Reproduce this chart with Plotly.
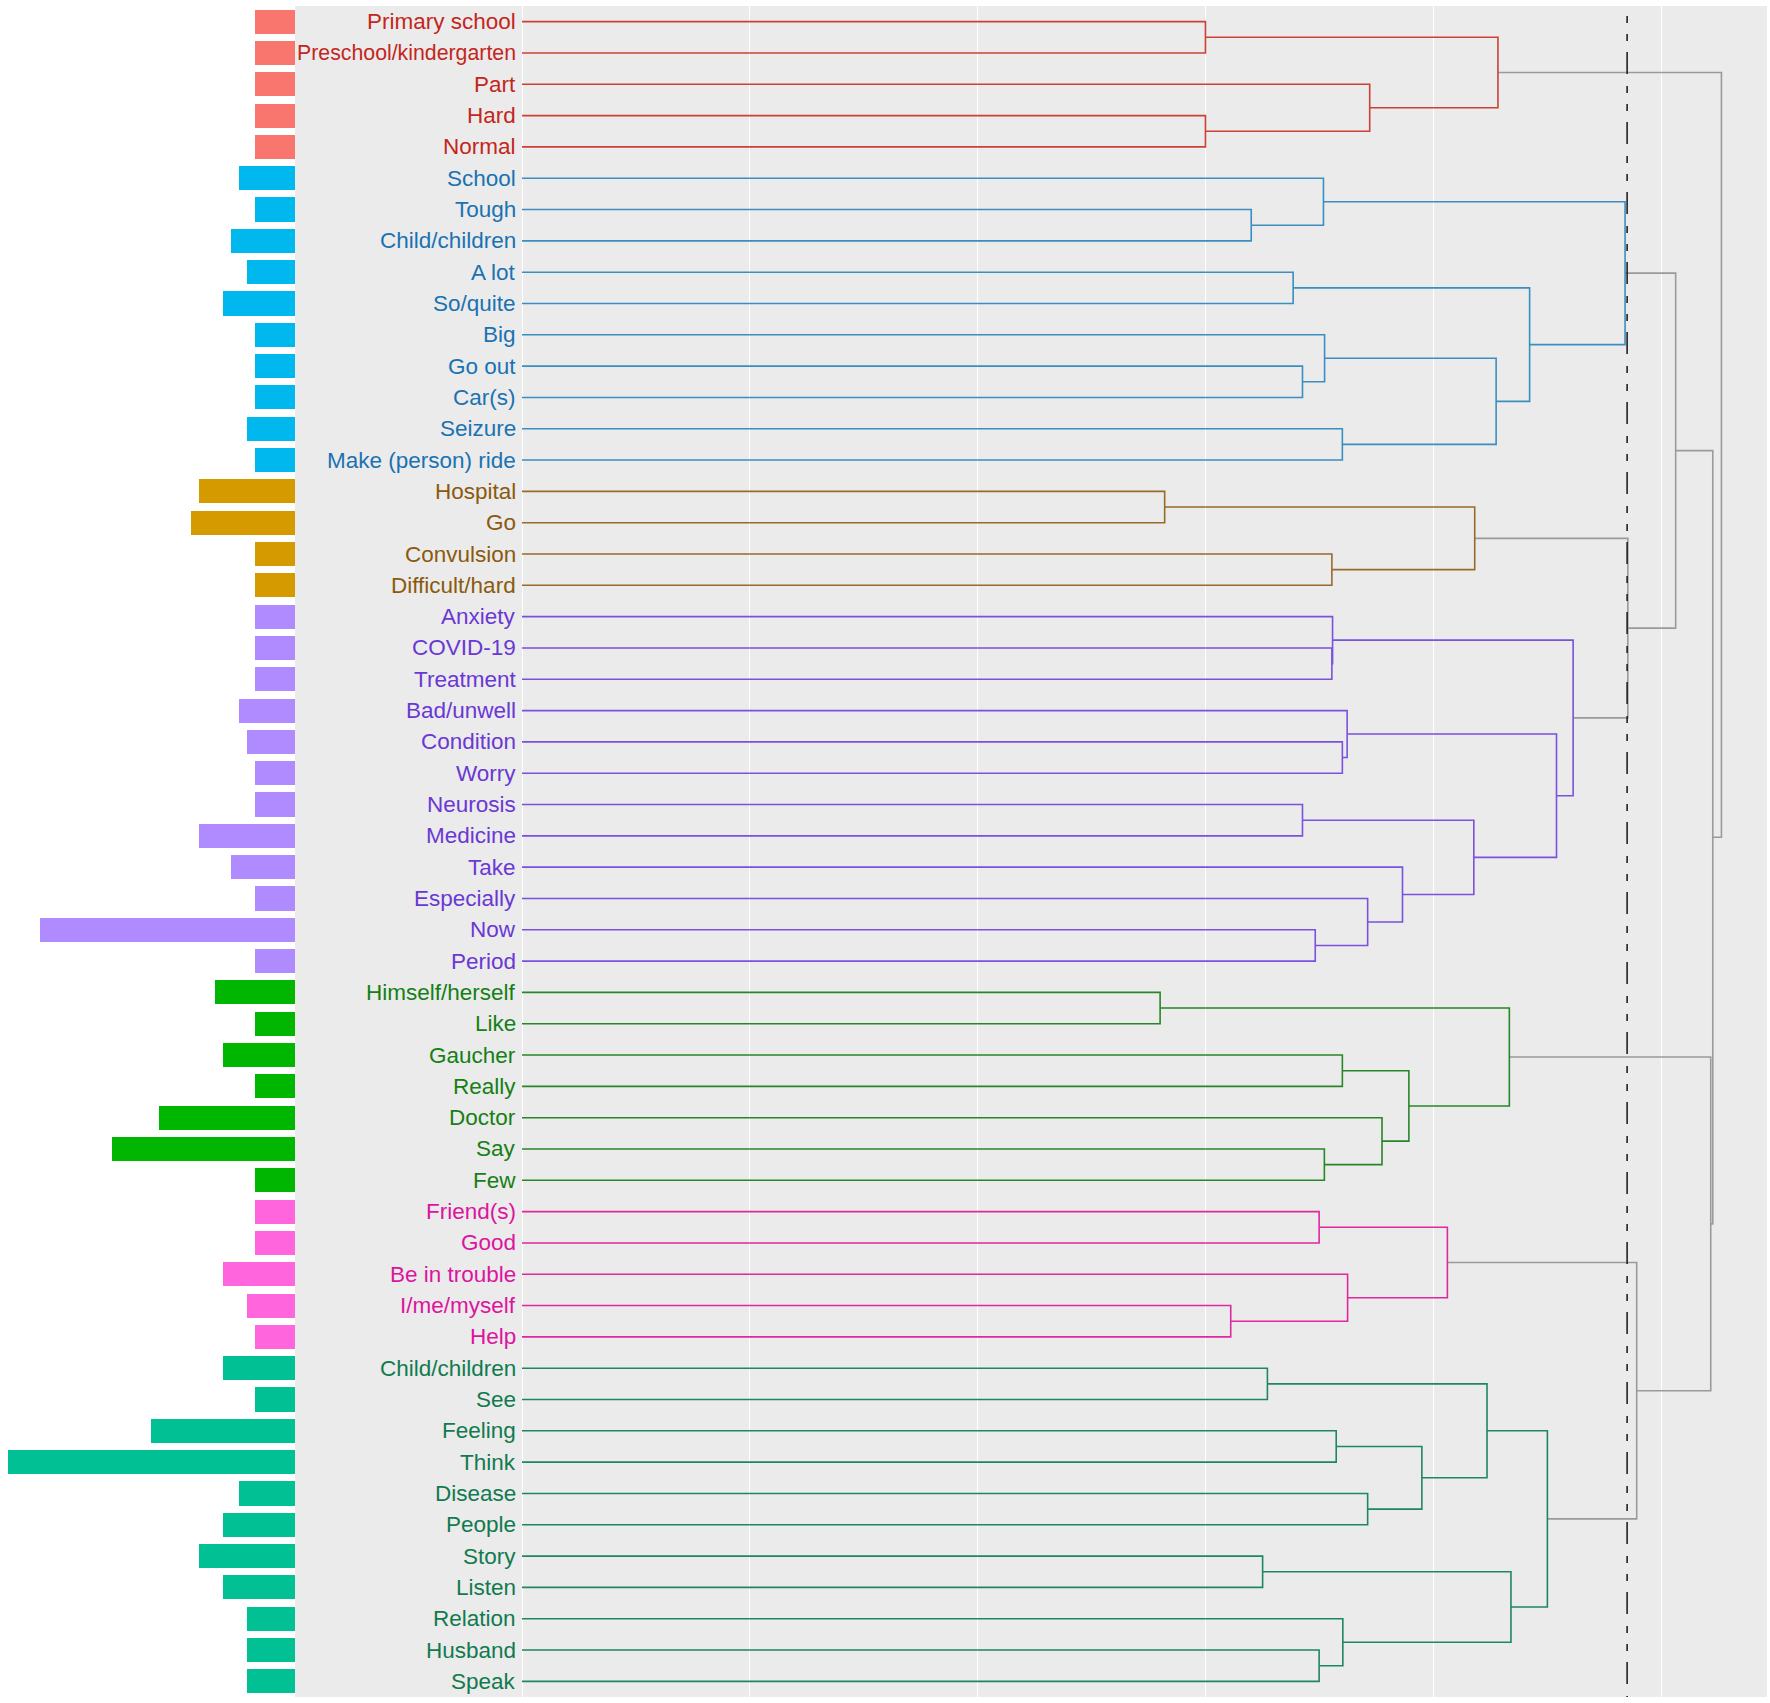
import plotly.graph_objects as go

labels = [
    "Primary school", "Preschool/kindergarten", "Part", "Hard", "Normal",
    "School", "Tough", "Child/children", "A lot", "So/quite", "Big", "Go out",
    "Car(s)", "Seizure", "Make (person) ride",
    "Hospital", "Go", "Convulsion", "Difficult/hard",
    "Anxiety", "COVID-19", "Treatment", "Bad/unwell", "Condition", "Worry",
    "Neurosis", "Medicine", "Take", "Especially", "Now", "Period",
    "Himself/herself", "Like", "Gaucher", "Really", "Doctor", "Say", "Few",
    "Friend(s)", "Good", "Be in trouble", "I/me/myself", "Help",
    "Child/children", "See", "Feeling", "Think", "Disease", "People", "Story",
    "Listen", "Relation", "Husband", "Speak",
]

counts = [
    5, 5, 5, 5, 5,
    7, 5, 8, 6, 9, 5, 5, 5, 6, 5,
    12, 13, 5, 5,
    5, 5, 5, 7, 6, 5, 5, 12, 8, 5, 32, 5,
    10, 5, 9, 5, 17, 23, 5,
    5, 5, 9, 6, 5,
    9, 5, 18, 36, 7, 9, 12, 9, 6, 6, 6,
]

clusters = (["red"] * 5 + ["blue"] * 10 + ["gold"] * 4 + ["purple"] * 12
            + ["green"] * 7 + ["pink"] * 5 + ["teal"] * 11)

bar_colors = {"red": "#F8766D", "blue": "#00B8EE", "gold": "#D49A00",
              "purple": "#AF8BFF", "green": "#00B600", "pink": "#FF66DD",
              "teal": "#00C094"}
text_colors = {"red": "#C4261B", "blue": "#1A72B2", "gold": "#8A5A0E",
               "purple": "#6A38D4", "green": "#167F16", "pink": "#DC159E",
               "teal": "#117A4F"}
line_colors = {"red": "#CC4134", "blue": "#3A8FC0", "gold": "#9A6A28",
               "purple": "#7B52DE", "green": "#288628", "pink": "#E0289F",
               "teal": "#1E8761", "grey": "#9A9A9A"}

# hclust-style merges: negative = leaf (1-based), positive = earlier merge row
merge_a = [-1, -4, -3, 1, -7, -6, -9, -12, -11, -14, 9, 7, 6,
           -16, -18, 14,
           -21, -20, -24, -23, -26, -30, -29, -28, 21, 20, 18,
           -32, -34, -37, -36, 29, 28,
           -39, -42, -41, 34,
           -44, -46, -48, 39, 38, -50, -53, -52, 43, 42,
           16, 13, 37, 33, 49, 4]
merge_b = [-2, -5, 2, 3, -8, 5, -10, -13, 8, -15, 10, 11, 12,
           -17, -19, 15,
           -22, 17, -25, 19, -27, -31, 22, 23, 24, 25, 26,
           -33, -35, -38, 30, 31, 32,
           -40, -43, 35, 36,
           -45, -47, -49, 40, 41, -51, -54, 44, 45, 46,
           27, 48, 47, 50, 51, 52]
merge_h = [3.000, 3.000, 3.721, 4.284, 3.201, 3.518, 3.385, 3.426, 3.523,
           3.601, 4.276, 4.423, 4.842,
           2.821, 3.555, 4.182,
           3.555, 3.558, 3.601, 3.622, 3.426, 3.482, 3.712, 3.865, 4.178,
           4.541, 4.614,
           2.801, 3.601, 3.522, 3.775, 3.893, 4.334,
           3.499, 3.111, 3.624, 4.062,
           3.272, 3.574, 3.712, 3.950, 4.236, 3.251, 3.499, 3.603, 4.341,
           4.501,
           4.854, 5.064, 4.893, 5.218, 5.227, 5.265]

cut_height = 4.851

n = len(labels)
rows = list(range(1, n + 1))

# ---- compute node positions from the merge table
node_x, node_y, node_cl = [], [], []


def child(c):
    if c < 0:
        i = -c - 1
        return 0.0, rows[i], {clusters[i]}
    k = c - 1
    return merge_h[k], node_y[k], node_cl[k]


segs = {}
for a, b, h in zip(merge_a, merge_b, merge_h):
    xa, ya, ca = child(a)
    xb, yb, cb = child(b)
    cl = ca | cb
    node_x.append(h)
    node_y.append((ya + yb) / 2)
    node_cl.append(cl)
    col = next(iter(cl)) if len(cl) == 1 else "grey"
    segs.setdefault(col, ([], []))
    xs, ys = segs[col]
    xs += [xa, h, h, xb, None]
    ys += [ya, ya, yb, yb, None]

W, H = 1770, 1703
left_px, split_px, right_px = 0, 295, 1767
top_px, bot_px = 6, 1697

fig = go.Figure()

fig.add_trace(go.Bar(
    x=counts, y=rows, orientation="h", width=0.77,
    marker=dict(color=[bar_colors[c] for c in clusters], line=dict(width=0)),
    xaxis="x", yaxis="y", showlegend=False, hoverinfo="skip",
))

order = ["grey", "red", "blue", "gold", "purple", "green", "pink", "teal"]
for col in order:
    if col in segs:
        xs, ys = segs[col]
        fig.add_trace(go.Scatter(
            x=xs, y=ys, mode="lines", xaxis="x2", yaxis="y",
            line=dict(color=line_colors[col], width=1.6),
            showlegend=False, hoverinfo="skip",
        ))

annotations = []
for lab, r, c in zip(labels, rows, clusters):
    size = 21.3 if len(lab) > 20 else 22.5
    annotations.append(dict(
        x=-0.022, y=r, xref="x2", yref="y", text=lab, showarrow=False,
        xanchor="right", yanchor="middle", borderpad=0,
        font=dict(family="Liberation Sans, Arial, sans-serif", size=size,
                  color=text_colors[c]),
    ))

shapes = [
    dict(type="rect", xref="x2 domain", yref="y domain", x0=0, x1=1, y0=0,
         y1=1, fillcolor="#EBEBEB", line=dict(width=0), layer="below"),
    dict(type="line", xref="x2", yref="y", x0=cut_height, x1=cut_height,
         y0=0.82, y1=n + 0.5,
         line=dict(color="#222222", width=1.6,
                   dash="7px,11px,7px,11px,22px,12px")),
]

hmin, hmax = -0.9965, 5.465

fig.update_layout(
    width=W, height=H,
    margin=dict(l=0, r=0, t=top_px, b=H - bot_px, pad=0),
    paper_bgcolor="white", plot_bgcolor="rgba(0,0,0,0)",
    bargap=0,
    xaxis=dict(domain=[left_px / W, split_px / W], range=[37.0, 0],
               showgrid=False, zeroline=False, showticklabels=False,
               ticks="", showline=False, fixedrange=True),
    xaxis2=dict(domain=[split_px / W, right_px / W], range=[hmin, hmax],
                anchor="y", tickvals=[0, 1, 2, 3, 4, 5], showgrid=True,
                gridcolor="white", gridwidth=1.3, zeroline=True,
                zerolinecolor="white", zerolinewidth=1.3,
                showticklabels=False, ticks="", showline=False),
    yaxis=dict(domain=[0, 1], range=[n + 0.5, 0.5], showgrid=False,
               zeroline=False, showticklabels=False, ticks="",
               showline=False),
    shapes=shapes,
    annotations=annotations,
)

fig.write_html(
    "out.html",
    config={"displayModeBar": False},
    post_script="document.body.style.margin='0';"
                "document.body.style.overflow='hidden';",
)
